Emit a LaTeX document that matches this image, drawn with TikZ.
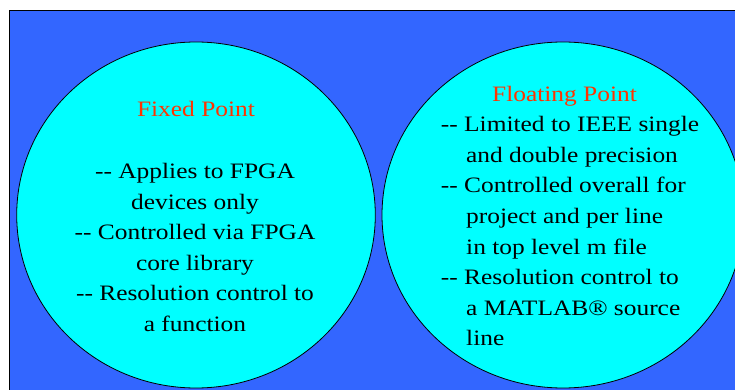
\documentclass[tikz,border=0pt]{standalone}
\usepackage{fontspec}
\setmainfont{Liberation Serif}
\definecolor{bgblue}{RGB}{51,102,255}
\definecolor{fillcyan}{RGB}{0,255,255}
\definecolor{titlered}{RGB}{255,51,0}
\newcommand{\dd}{-\kern0pt-}
\newcommand{\wideT}[1]{\scalebox{1.155}[1]{#1}}
\newcommand{\hang}{\hspace*{21.9pt}}
\begin{document}
\begin{tikzpicture}[x=1pt,y=-1pt,
  bubble/.style={draw=black,line width=0.8pt,fill=fillcyan},
  txt/.style={inner sep=0pt,font=\fontsize{22}{30.6}\selectfont},
  titletxt/.style={txt,anchor=base,text=titlered}]
\fill[white] (0,0) rectangle (735,390);
\useasboundingbox (0,0) rectangle (735,390);
\draw[fill=bgblue,line width=0.8pt] (9.5,10) rectangle (745,400);
\draw[bubble] (196,215) ellipse [x radius=179.3, y radius=173];
\draw[bubble] (563,215) ellipse [x radius=181, y radius=173];
\node[titletxt] (fixedtitle) at (196,116.7) {\wideT{Fixed Point}};
\node[titletxt] (floattitle) at (564.5,101.7) {\wideT{Floating Point}};
\node[txt,anchor=base] (fixedbody) at (195,178.5) {\wideT{\begin{tabular}[t]{@{}c@{}}
\dd{} Applies to FPGA\\
devices only\\
\dd{} Controlled via FPGA\\
core library\\
\dd{} Resolution control to\\
a function
\end{tabular}}};
\node[txt,anchor=base west] (floatbody) at (440.7,131.7) {\wideT{\begin{tabular}[t]{@{}l@{}}
\dd{} Limited to IEEE single\\
\hang and double precision\\
\dd{} Controlled overall for\\
\hang project and per line\\
\hang in top level m file\\
\dd{} Resolution control to\\
\hang a MATLAB® source\\
\hang line
\end{tabular}}};
\end{tikzpicture}
\end{document}
